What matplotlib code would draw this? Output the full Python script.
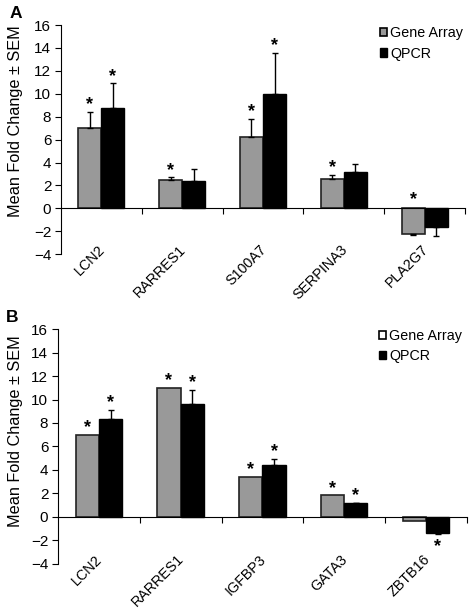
import matplotlib
matplotlib.use("Agg")
import matplotlib.pyplot as plt
import numpy as np
from matplotlib.patches import Patch

plt.rcParams['font.family'] = ['Liberation Sans', 'DejaVu Sans']

# Panel A data
genes_a = ["LCN2", "RARRES1", "S100A7", "SERPINA3", "PLA2G7"]
array_a = [7.0, 2.5, 6.2, 2.6, -2.25]
array_err_a = [1.4, 0.2, 1.6, 0.35, 0.1]
qpcr_a = [8.8, 2.4, 10.0, 3.2, -1.6]
qpcr_err_a = [2.1, 1.0, 3.6, 0.7, 0.85]
sig_array_a = [True, True, True, True, True]
sig_qpcr_a = [True, False, True, False, False]

# Panel B data
genes_b = ["LCN2", "RARRES1", "IGFBP3", "GATA3", "ZBTB16"]
array_b = [7.0, 11.0, 3.4, 1.85, -0.35]
array_err_b = [0.0, 0.0, 0.0, 0.0, 0.0]
qpcr_b = [8.3, 9.6, 4.4, 1.15, -1.37]
qpcr_err_b = [0.8, 1.2, 0.55, 0.05, 0.05]
sig_array_b = [True, True, True, True, False]
sig_qpcr_b = [True, True, True, True, True]

yticks = [-4, -2, 0, 2, 4, 6, 8, 10, 12, 14, 16]

GRAY = "#999999"
W = 0.285

fig = plt.figure(figsize=(4.73, 6.11), dpi=100)
ax_a = fig.add_axes([0.129, 0.584, 0.854, 0.375])
ax_b = fig.add_axes([0.1226, 0.077, 0.8644, 0.3845])


def draw(ax, genes, arr, arr_err, q, q_err, sig_a, sig_q, legend_face, letter,
         leg_x, leg_y, ylab_x, ylab_y):
    x = np.arange(len(genes))
    xa = x - W / 2
    xq = x + W / 2
    ax.bar(xa, arr, W, color=GRAY, edgecolor="#222222", linewidth=1.2, zorder=2)
    ax.bar(xq, q, W, color="black", edgecolor="black", linewidth=1.0, zorder=2)
    for xs, vals, errs in ((xa, arr, arr_err), (xq, q, q_err)):
        for xi, v, e in zip(xs, vals, errs):
            if e > 0:
                lo, hi = ([0], [e]) if v >= 0 else ([e], [0])
                ax.errorbar(xi, v, yerr=[lo, hi], fmt="none", ecolor="black",
                            elinewidth=1.0, capsize=2.0, capthick=1.0, zorder=3)
    # significance stars
    for xs, vals, errs, sigs in ((xa, arr, arr_err, sig_a), (xq, q, q_err, sig_q)):
        for xi, v, e, s in zip(xs, vals, errs, sigs):
            if not s:
                continue
            if v >= 0:
                ax.annotate("*", (xi, v + e), xytext=(0, -1), textcoords="offset points",
                            ha="center", va="bottom", fontsize=13, fontweight="bold")
            elif letter == "A":
                ax.annotate("*", (xi, 0), xytext=(0, 0), textcoords="offset points",
                            ha="center", va="bottom", fontsize=13, fontweight="bold")
            else:
                ax.annotate("*", (xi, v - e), xytext=(0, -3), textcoords="offset points",
                            ha="center", va="top", fontsize=13, fontweight="bold")
    ax.set_xlim(-0.5, len(genes) - 0.5)
    ax.set_ylim(-4, 16)
    ax.set_yticks(yticks)
    ax.tick_params(axis="y", direction="out", length=4, width=0.8, labelsize=11, pad=3)
    ax.spines["top"].set_visible(False)
    ax.spines["right"].set_visible(False)
    ax.spines["bottom"].set_position(("data", 0))
    ax.spines["left"].set_linewidth(0.8)
    ax.spines["bottom"].set_linewidth(0.8)
    ax.set_xticks(np.arange(0.5, len(genes), 1.0))
    ax.set_xticklabels([])
    ax.tick_params(axis="x", direction="out", length=4, width=0.8)
    for xi, g in zip(x, genes):
        ax.annotate(g, (xi, -4), xytext=(1.0, 5.0), textcoords="offset points",
                    rotation=45, ha="right", va="center", rotation_mode="anchor",
                    fontsize=10.3)
    ax.set_ylabel("Mean Fold Change ± SEM", fontsize=11.7)
    ax.yaxis.set_label_coords(ylab_x, ylab_y)
    handles = [Patch(facecolor=legend_face, edgecolor="black", linewidth=1.2),
               Patch(facecolor="black", edgecolor="black", linewidth=1.0)]
    ax.legend(handles, ["Gene Array", "QPCR"], loc="upper left",
              bbox_to_anchor=(leg_x, leg_y), frameon=False, fontsize=10.3,
              borderpad=0, borderaxespad=0,
              handlelength=0.5, handleheight=0.5, handletextpad=0.2, labelspacing=0.45)
    ax.text(-0.128, 1.018, letter, transform=ax.transAxes, fontsize=12.5,
            fontweight="bold", ha="left", va="bottom")


draw(ax_a, genes_a, array_a, array_err_a, qpcr_a, qpcr_err_a,
     sig_array_a, sig_qpcr_a, GRAY, "A", 0.79, 0.995, -0.094, 0.58)
draw(ax_b, genes_b, array_b, array_err_b, qpcr_b, qpcr_err_b,
     sig_array_b, sig_qpcr_b, "white", "B", 0.785, 1.0, -0.086, 0.566)

fig.savefig("out.png", dpi=100)
